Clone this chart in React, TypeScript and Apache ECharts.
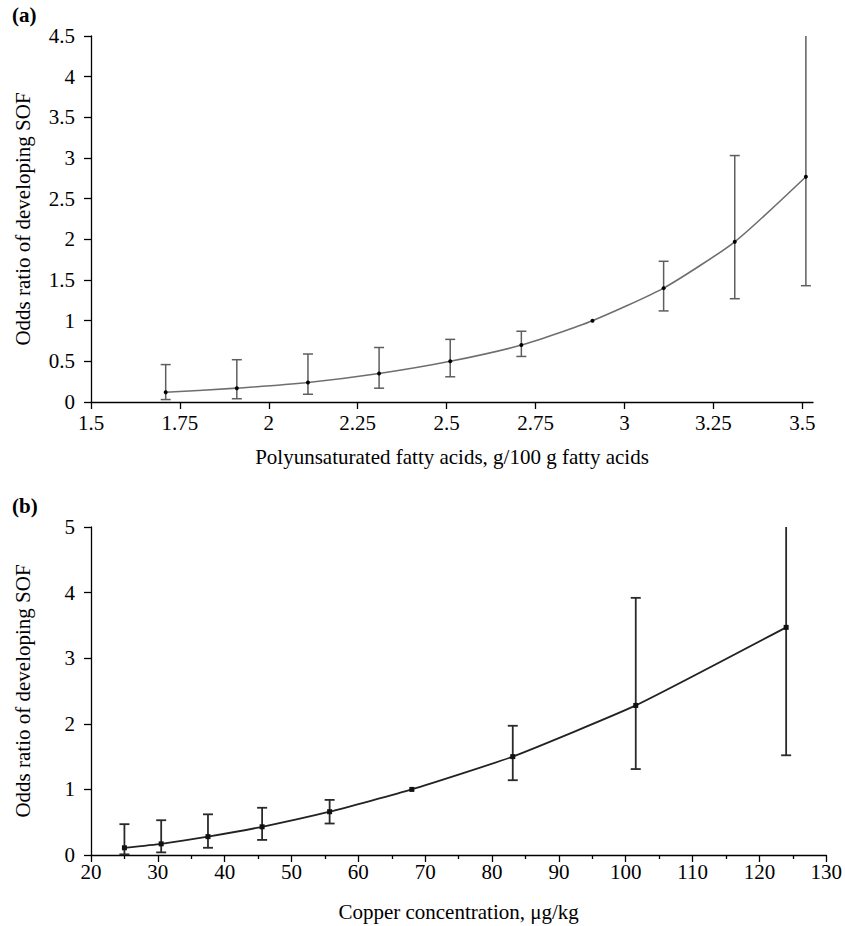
import React, { useEffect, useRef } from "react";
import * as echarts from "echarts";

// Panel (a): polyunsaturated fatty acids
const pufaX = [1.71, 1.91, 2.11, 2.31, 2.51, 2.71, 2.91, 3.11, 3.31, 3.51];
const pufaOR = [0.12, 0.17, 0.24, 0.35, 0.5, 0.7, 1.0, 1.4, 1.97, 2.77];
const pufaLow = [0.03, 0.04, 0.095, 0.17, 0.31, 0.56, null, 1.12, 1.27, 1.43];
const pufaHigh = [0.46, 0.52, 0.59, 0.67, 0.77, 0.87, null, 1.73, 3.03, 4.5];
const pufaTicks = [1.5, 1.75, 2, 2.25, 2.5, 2.75, 3, 3.25, 3.5];

// Panel (b): copper concentration
const cuX = [25, 30.5, 37.5, 45.6, 55.7, 68, 83.1, 101.5, 124];
const cuOR = [0.11, 0.17, 0.28, 0.43, 0.66, 1.0, 1.5, 2.28, 3.47];
const cuLow = [0.01, 0.04, 0.11, 0.23, 0.48, null, 1.14, 1.31, 1.52];
const cuHigh = [0.47, 0.53, 0.62, 0.72, 0.84, null, 1.97, 3.92, 5.0];

const FONT = "Liberation Serif, Times New Roman, serif";

function errItems(xs: number[], lo: (number | null)[], hi: (number | null)[]) {
  const out: number[][] = [];
  xs.forEach((x, i) => {
    if (lo[i] != null && hi[i] != null) out.push([x, lo[i] as number, hi[i] as number]);
  });
  return out;
}

function makeErrRender(ymax: number, color: string, width: number, capHalf: number) {
  return (params: any, api: any) => {
    const x = api.value(0);
    const lo = api.value(1);
    const hi = api.value(2);
    const top = Math.min(hi, ymax);
    const pLo = api.coord([x, lo]);
    const pHi = api.coord([x, top]);
    const style = { stroke: color, lineWidth: width };
    const children: any[] = [
      { type: "line", shape: { x1: pLo[0], y1: pLo[1], x2: pHi[0], y2: pHi[1] }, style },
      { type: "line", shape: { x1: pLo[0] - capHalf, y1: pLo[1], x2: pLo[0] + capHalf, y2: pLo[1] }, style },
    ];
    if (hi < ymax) {
      children.push({
        type: "line",
        shape: { x1: pHi[0] - capHalf, y1: pHi[1], x2: pHi[0] + capHalf, y2: pHi[1] },
        style,
      });
    }
    return { type: "group", children };
  };
}

export default function App() {
  const ref = useRef<HTMLDivElement>(null);
  useEffect(() => {
    if (!ref.current) return;
    const chart = echarts.init(ref.current, undefined, { renderer: "svg" });
    const axisLine = { show: true, lineStyle: { color: "#000", width: 1.3 } };
    const axisTick = { show: true, length: 7, lineStyle: { color: "#000", width: 1.3 } };
    const label = { color: "#000", fontFamily: FONT, fontSize: 21 };
    const nameStyle = { color: "#000", fontFamily: FONT, fontSize: 21 };
    chart.setOption({
      animation: false,
      backgroundColor: "#fff",
      graphic: [
        { type: "text", left: 12, top: 4, style: { text: "(a)", font: `bold 21px ${FONT}`, fill: "#000" } },
        { type: "text", left: 12, top: 495, style: { text: "(b)", font: `bold 21px ${FONT}`, fill: "#000" } },
      ],
      grid: [
        { left: 91, right: 32, top: 36, bottom: 524, containLabel: false },
        { left: 91, right: 18, top: 527, bottom: 71, containLabel: false },
      ],
      xAxis: [
        {
          type: "value",
          gridIndex: 0,
          min: 1.5,
          max: 3.53,
          axisLine,
          axisTick: { ...axisTick, customValues: pufaTicks },
          axisLabel: { ...label, margin: 10, customValues: pufaTicks },
          splitLine: { show: false },
          name: "Polyunsaturated fatty acids, g/100 g fatty acids",
          nameLocation: "middle",
          nameGap: 44,
          nameTextStyle: nameStyle,
        },
        {
          type: "value",
          gridIndex: 1,
          min: 20,
          max: 130,
          interval: 10,
          axisLine,
          axisTick,
          minorTick: { show: true, splitNumber: 2, length: 4, lineStyle: { color: "#000", width: 1.3 } },
          axisLabel: { ...label, margin: 6 },
          splitLine: { show: false },
          name: "Copper concentration, μg/kg",
          nameLocation: "middle",
          nameGap: 46,
          nameTextStyle: nameStyle,
        },
      ],
      yAxis: [
        {
          type: "value",
          gridIndex: 0,
          min: 0,
          max: 4.5,
          interval: 0.5,
          axisLine,
          axisTick,
          axisLabel: { ...label, margin: 16 },
          splitLine: { show: false },
          name: "Odds ratio of developing SOF",
          nameLocation: "middle",
          nameGap: 58,
          nameTextStyle: nameStyle,
        },
        {
          type: "value",
          gridIndex: 1,
          min: 0,
          max: 5,
          interval: 1,
          axisLine,
          axisTick,
          axisLabel: { ...label, margin: 16 },
          splitLine: { show: false },
          name: "Odds ratio of developing SOF",
          nameLocation: "middle",
          nameGap: 58,
          nameTextStyle: nameStyle,
        },
      ],
      series: [
        {
          type: "custom",
          xAxisIndex: 0,
          yAxisIndex: 0,
          renderItem: makeErrRender(4.5, "#5e5e5e", 1.5, 5),
          encode: { x: 0, y: [1, 2] },
          data: errItems(pufaX, pufaLow, pufaHigh),
          z: 2,
        },
        {
          type: "line",
          xAxisIndex: 0,
          yAxisIndex: 0,
          data: pufaX.map((x, i) => [x, pufaOR[i]]),
          smooth: 0.2,
          symbol: "circle",
          symbolSize: 4,
          itemStyle: { color: "#000" },
          lineStyle: { color: "#6e6e6e", width: 1.6 },
          z: 3,
        },
        {
          type: "custom",
          xAxisIndex: 1,
          yAxisIndex: 1,
          renderItem: makeErrRender(5, "#2a2a2a", 1.8, 5),
          encode: { x: 0, y: [1, 2] },
          data: errItems(cuX, cuLow, cuHigh),
          z: 2,
        },
        {
          type: "line",
          xAxisIndex: 1,
          yAxisIndex: 1,
          data: cuX.map((x, i) => [x, cuOR[i]]),
          smooth: 0.15,
          symbol: "rect",
          symbolSize: 5,
          itemStyle: { color: "#111" },
          lineStyle: { color: "#222", width: 1.8 },
          z: 3,
        },
      ],
    });
    return () => chart.dispose();
  }, []);
  return (
    <div
      ref={ref}
      style={{ position: "fixed", left: 0, top: 0, width: 845, height: 926, background: "#fff" }}
    />
  );
}
